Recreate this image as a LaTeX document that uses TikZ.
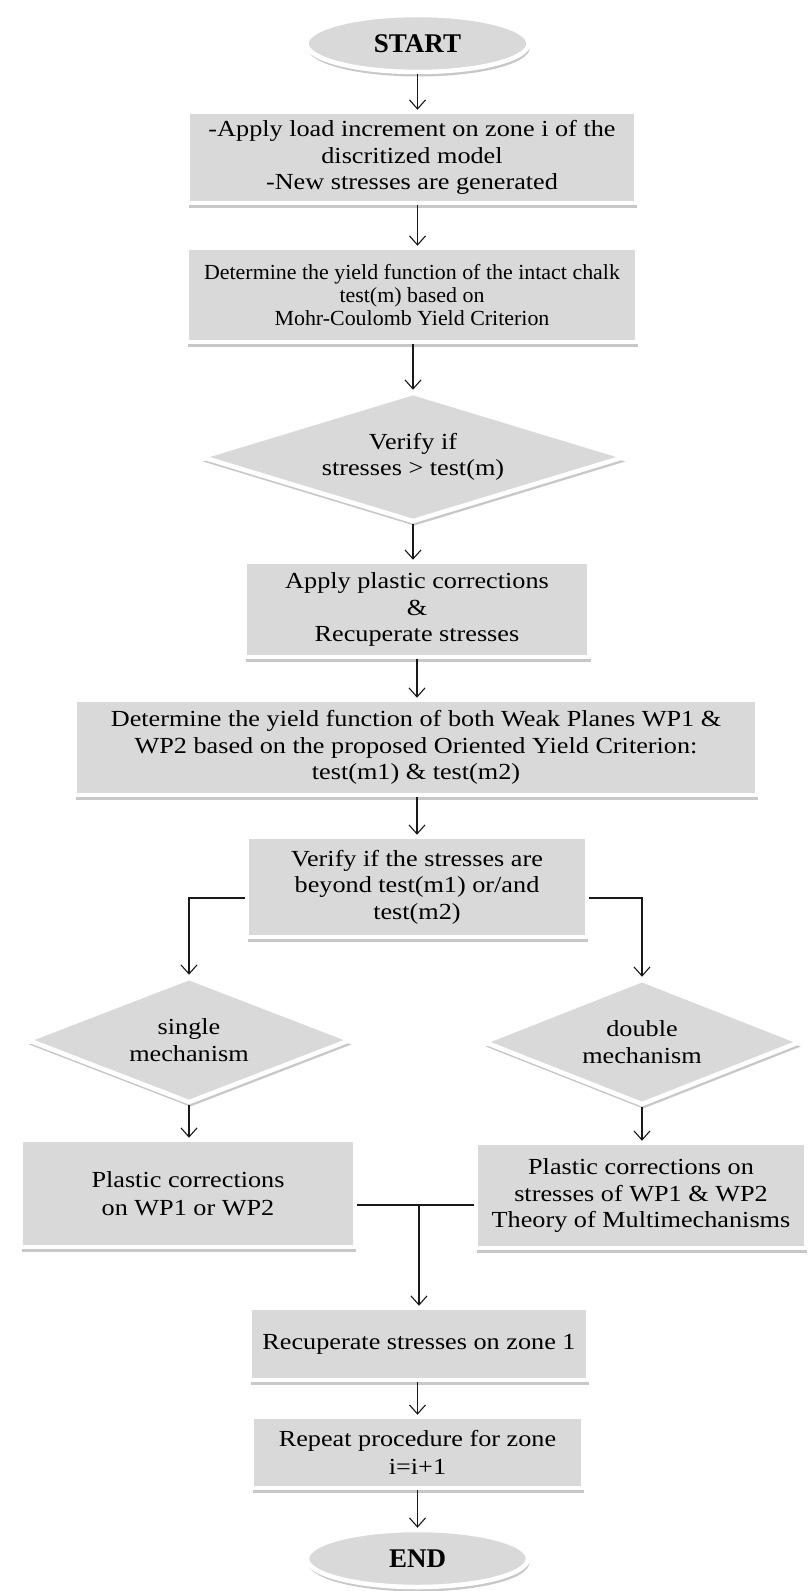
\documentclass[tikz,border=0pt]{standalone}
\usepackage{fontspec}
\setmainfont{Liberation Serif}[FakeStretch=1.14]
\newfontfamily\plainserif{Liberation Serif}
\newfontfamily\condserif{Liberation Serif}[FakeStretch=1.02]
\usetikzlibrary{shapes.geometric,arrows.meta,shadows}
\definecolor{boxgray}{RGB}{217,217,217}
\definecolor{lncol}{RGB}{25,25,25}
\newcommand{\fA}{\fontsize{23bp}{26.5bp}\selectfont}
\newcommand{\fB}{\condserif\fontsize{21.5bp}{23bp}\selectfont}
\newcommand{\fC}{\fontsize{23bp}{27.5bp}\selectfont}
\tikzset{
  base/.style={fill=boxgray, draw=white, line width=4.5bp,
    drop shadow={shadow xshift=1.2bp, shadow yshift=-4.5bp, opacity=0.3, fill=black!70},
    inner sep=0pt, align=center, text=black, font=\fA},
  rbox/.style={base, rectangle},
  oval/.style={base, ellipse, font=\plainserif\fontsize{27bp}{30bp}\selectfont\bfseries},
  dia/.style={base, diamond},
  arr/.style={draw=lncol, line width=1.1bp, -{Straight Barb[length=9bp,width=16bp]}},
  ln/.style={draw=lncol, line width=1.1bp}
}
\begin{document}
\begin{tikzpicture}[x=1bp,y=-1bp]
\useasboundingbox[fill=white] (0,0) rectangle (807,1591);

\node[oval, minimum width=222bp, minimum height=57bp] (start) at (417.5,43.5) {START};
\node[rbox, minimum width=448bp, minimum height=91bp] (b1) at (412,157.5)
  {-Apply load increment on zone i of the\\discritized model\\-New stresses are generated};
\node[rbox, minimum width=450bp, minimum height=94bp, font=\fB] (b2) at (412,295)
  {Determine the yield function of the intact chalk\\test(m) based on\\Mohr-Coulomb Yield Criterion};
\node[dia, minimum width=424bp, minimum height=130bp, aspect=3.3] (d1) at (413,457)
  {Verify if\\stresses > test(m)};
\node[rbox, minimum width=345bp, minimum height=95bp] (b3) at (417,609.5)
  {Apply plastic corrections\\\&\\Recuperate stresses};
\node[rbox, minimum width=682bp, minimum height=95bp] (b4) at (416,747.5)
  {Determine the yield function of both Weak Planes WP1 \&\\WP2 based on the proposed Oriented Yield Criterion:\\test(m1) \& test(m2)};
\node[rbox, minimum width=340bp, minimum height=100bp] (b5) at (417,887)
  {Verify if the stresses are\\beyond test(m1) or/and\\test(m2)};
\node[dia, minimum width=324bp, minimum height=126bp, aspect=2.6] (dl) at (189,1040)
  {single\\mechanism};
\node[dia, minimum width=317bp, minimum height=126bp, aspect=2.6] (dr) at (642,1042)
  {double\\mechanism};
\node[rbox, minimum width=334bp, minimum height=107bp, font=\fC] (bl) at (188,1193.5)
  {Plastic corrections\\on WP1 or WP2};
\node[rbox, minimum width=330bp, minimum height=105bp] (br) at (641,1195.5)
  {Plastic corrections on\\stresses of WP1 \& WP2\\Theory of Multimechanisms};
\node[rbox, minimum width=338bp, minimum height=72bp] (b6) at (419,1344)
  {Recuperate stresses on zone 1};
\node[rbox, minimum width=331bp, minimum height=71bp, font=\fC] (b7) at (417.5,1452.5)
  {Repeat procedure for zone\\i=i+1};
\node[oval, minimum width=221bp, minimum height=57bp] (end) at (417.5,1558.5) {END};

\draw[arr] (start.south) -- (start.south |- b1.north);
\draw[arr] (b1.south -| start.south) -- (start.south |- b2.north);
\draw[arr] (b2.south -| d1.north) -- (d1.north);
\draw[arr] (d1.south) -- (d1.south |- b3.north);
\draw[arr] (b3.south) -- (b3.south |- b4.north);
\draw[arr] (b4.south -| b5.north) -- (b5.north);
\draw[arr] ([yshift=-11bp]b5.west) -| (dl.north);
\draw[arr] ([yshift=-11bp]b5.east) -| (dr.north);
\draw[arr] (dl.south) -- (dl.south |- bl.north);
\draw[arr] (dr.south) -- (dr.south |- br.north);
\coordinate (m) at (419,1205);
\draw[ln] (m -| bl.east) -- (m -| br.west);
\draw[arr] (m) -- (m |- b6.north);
\draw[arr] (b6.south -| b7.north) -- (b7.north);
\draw[arr] (b7.south -| end.north) -- (end.north);
\end{tikzpicture}
\end{document}
